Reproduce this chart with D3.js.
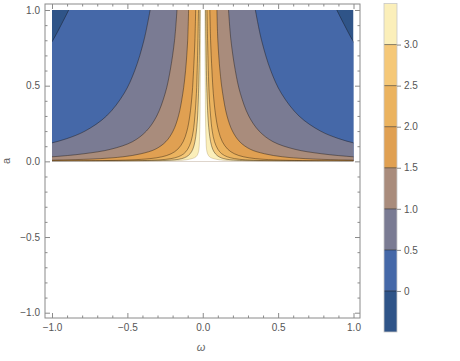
<!DOCTYPE html>
<html><head><meta charset="utf-8">
<script src="https://cdn.jsdelivr.net/npm/d3@7"></script>
<style>body{margin:0;background:#fff}</style>
</head><body>
<svg id="c" width="460" height="361"></svg>
<script>
// contour levels and band colours (band i spans levels[i-1]..levels[i])
const levels = [0, 0.5, 1.0, 1.5, 2.0, 2.5, 3.0, 3.5];
const bandColors = ["#2f5488","#4568a8","#7a7b93","#a98c7c","#e0a052","#ebb35f","#f5c878","#fbefba"];
const barLabels = [0, 0.5, 1.0, 1.5, 2.0, 2.5, 3.0];
const axisTicks = [-1, -0.5, 0, 0.5, 1];

// right-half contour curves as [omega, a] points (left half is mirrored)
const contour00 = [[0.889,1],[0.94,0.9],[0.994,0.8],[1.03,0.745]];
const contour05 = [[0.349,1],[0.39,0.8],[0.451,0.6],[0.521,0.45],[0.638,0.3],[0.781,0.2],[0.902,0.15],[1.008,0.12],[1.105,0.1]];
const contour10 = [[0.171,1],[0.187,0.8],[0.216,0.6],[0.249,0.45],[0.305,0.3],[0.374,0.2],[0.466,0.13],[0.61,0.08],[0.79,0.05],[1.0,0.03],[1.1,0.025]];
const contour15 = [[0.094,1],[0.1,0.8],[0.114,0.6],[0.132,0.45],[0.161,0.3],[0.197,0.2],[0.245,0.13],[0.315,0.08],[0.41,0.05],[0.53,0.03],[0.68,0.018],[0.9,0.01],[1.06,0.007]];
const contour20 = [[0.047,1],[0.052,0.8],[0.061,0.6],[0.07,0.45],[0.086,0.3],[0.105,0.2],[0.13,0.13],[0.166,0.08],[0.21,0.05],[0.271,0.03],[0.35,0.018],[0.469,0.01],[0.663,0.005],[1.05,0.002]];
const contour25 = [[0.028,1],[0.032,0.8],[0.037,0.6],[0.042,0.45],[0.052,0.3],[0.063,0.2],[0.078,0.13],[0.1,0.08],[0.126,0.05],[0.163,0.03],[0.211,0.018],[0.283,0.01],[0.4,0.005],[0.632,0.002],[0.894,0.001],[1.07,0.0007]];
const contour30 = [[0.0187,1],[0.021,0.8],[0.024,0.6],[0.028,0.45],[0.034,0.3],[0.042,0.2],[0.052,0.13],[0.066,0.08],[0.084,0.05],[0.108,0.03],[0.139,0.018],[0.187,0.01],[0.265,0.005],[0.418,0.002],[0.592,0.001],[1.08,0.0003]];
const contour35 = [[0.0146,1],[0.015,0.8],[0.016,0.6],[0.017,0.45],[0.018,0.3],[0.02,0.2],[0.022,0.13],[0.025,0.08],[0.032,0.05],[0.045,0.03],[0.065,0.02],[0.11,0.01],[0.17,0.005],[0.28,0.002],[0.48,0.0007],[1.05,0.0001]];
const contours = [contour00, contour05, contour10, contour15, contour20, contour25, contour30, contour35];

const svg = d3.select("#c");
const x = d3.scaleLinear([-1, 1], [52, 353.5]);
const y = d3.scaleLinear([-1, 1], [312.7, 10]);
const frame = {x0: 45, x1: 360, y0: 4, y1: 318};
const font = "'Liberation Sans', Arial, sans-serif";
const gray = "#8a8a8a";
const lineCol = "rgba(20,15,10,0.5)";

svg.append("clipPath").attr("id","clip").append("rect")
  .attr("x", x(-1)).attr("y", y(1)).attr("width", x(1)-x(-1)).attr("height", y(0)-y(1));

const plot = svg.append("g").attr("clip-path","url(#clip)");
plot.append("rect").attr("x", x(-1)).attr("y", y(1)).attr("width", x(1)-x(-1)).attr("height", y(0)-y(1))
  .attr("fill", bandColors[0]);

const curve = d3.line().x(d => x(d[0])).y(d => y(d[1])).curve(d3.curveCatmullRom.alpha(0.5));

contours.forEach((c, i) => {
  const right = c;
  const left = c.map(d => [-d[0], d[1]]).reverse();
  const wl = c[c.length-1][0];
  const path = "M" + x(-wl) + "," + y(0) +
    curve(left).replace(/^M/, "L") + curve(right).replace(/^M/, "L") +
    "L" + x(wl) + "," + y(0) + "Z";
  plot.append("path").attr("d", path)
    .attr("fill", i < bandColors.length-1 ? bandColors[i+1] : "#ffffff");
});
contours.forEach((c, i) => {
  const left = c.map(d => [-d[0], d[1]]);
  [c, left].forEach(p => plot.append("path").attr("d", curve(p)).attr("fill","none")
    .attr("stroke", i === contours.length-1 ? "rgba(150,120,60,0.35)" : lineCol).attr("stroke-width", 0.8));
});

// frame
svg.append("rect").attr("x", frame.x0).attr("y", frame.y0)
  .attr("width", frame.x1-frame.x0).attr("height", frame.y1-frame.y0)
  .attr("fill","none").attr("stroke", gray).attr("stroke-width", 1);

const minor = d3.range(-10, 11).map(v => v/10).filter(v => !axisTicks.some(t => Math.abs(t-v) < 1e-9));
const fmt = d3.format(".1f");
function styleAxis(g) {
  g.select(".domain").remove();
  g.selectAll("line").attr("stroke", gray);
  g.selectAll("text").attr("fill", "#555").style("font-family", font).style("font-size", "10px");
}
// bottom
svg.append("g").attr("transform", `translate(0,${frame.y1})`)
  .call(d3.axisBottom(x).tickValues(axisTicks).tickSizeInner(-5).tickSizeOuter(0).tickPadding(6).tickFormat(fmt)).call(styleAxis);
svg.append("g").attr("transform", `translate(0,${frame.y1})`)
  .call(d3.axisBottom(x).tickValues(minor).tickSizeInner(-2.5).tickSizeOuter(0).tickFormat("")).call(styleAxis);
// top
svg.append("g").attr("transform", `translate(0,${frame.y0})`)
  .call(d3.axisTop(x).tickValues(axisTicks).tickSizeInner(-5).tickSizeOuter(0).tickFormat("")).call(styleAxis);
svg.append("g").attr("transform", `translate(0,${frame.y0})`)
  .call(d3.axisTop(x).tickValues(minor).tickSizeInner(-2.5).tickSizeOuter(0).tickFormat("")).call(styleAxis);
// left
svg.append("g").attr("transform", `translate(${frame.x0},0)`)
  .call(d3.axisLeft(y).tickValues(axisTicks).tickSizeInner(-5).tickSizeOuter(0).tickPadding(5).tickFormat(fmt)).call(styleAxis);
svg.append("g").attr("transform", `translate(${frame.x0},0)`)
  .call(d3.axisLeft(y).tickValues(minor).tickSizeInner(-2.5).tickSizeOuter(0).tickFormat("")).call(styleAxis);
// right
svg.append("g").attr("transform", `translate(${frame.x1},0)`)
  .call(d3.axisRight(y).tickValues(axisTicks).tickSizeInner(-5).tickSizeOuter(0).tickFormat("")).call(styleAxis);
svg.append("g").attr("transform", `translate(${frame.x1},0)`)
  .call(d3.axisRight(y).tickValues(minor).tickSizeInner(-2.5).tickSizeOuter(0).tickFormat("")).call(styleAxis);

// axis labels
svg.append("text").attr("x", 201).attr("y", 351).attr("text-anchor","middle")
  .attr("fill","#666").style("font-family", font).style("font-size","11px").style("font-style","italic").text("ω");
svg.append("text").attr("transform","translate(10,161) rotate(-90)").attr("text-anchor","middle")
  .attr("fill","#666").style("font-family", font).style("font-size","11px").text("a");

// colour bar
const cb = d3.scaleLinear([-0.5, 3.5], [332, 3.5]);
const bx = 384, bw = 13;
const bandEdges = [-0.5].concat(levels);
bandColors.forEach((col, i) => {
  svg.append("rect").attr("x", bx).attr("width", bw)
    .attr("y", cb(bandEdges[i+1])).attr("height", cb(bandEdges[i]) - cb(bandEdges[i+1]))
    .attr("fill", col);
});
barLabels.forEach(v => svg.append("line").attr("x1", bx).attr("x2", bx+bw)
  .attr("y1", cb(v)).attr("y2", cb(v)).attr("stroke", lineCol).attr("stroke-width", 1));
svg.append("rect").attr("x", bx).attr("y", cb(3.5)).attr("width", bw).attr("height", cb(-0.5)-cb(3.5))
  .attr("fill","none").attr("stroke","#c8c8c8").attr("stroke-width",0.8);
svg.append("g").attr("transform", `translate(${bx+bw},0)`)
  .call(d3.axisRight(cb).tickValues(barLabels).tickSizeInner(4).tickSizeOuter(0).tickPadding(3)
    .tickFormat(v => v === 0 ? "0" : fmt(v))).call(styleAxis);
</script>
</body></html>
